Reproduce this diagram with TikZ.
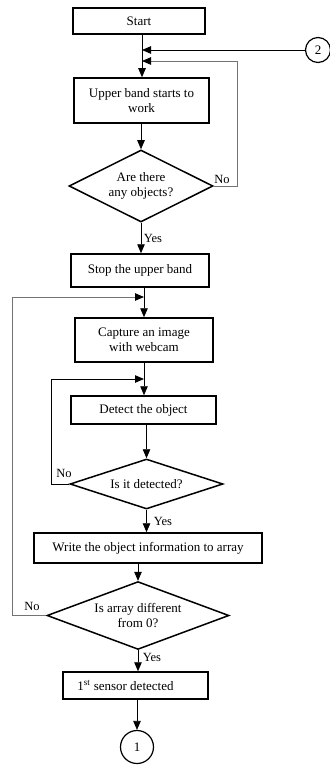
\documentclass[tikz,border=0pt]{standalone}
\usepackage{fontspec}
\setmainfont{Liberation Serif}
\usetikzlibrary{shapes.geometric,arrows.meta,calc}
\begin{document}
\begin{tikzpicture}[x=1pt,y=-1pt,
  txt/.style={font=\fontsize{13}{15}\selectfont},
  box/.style={txt,draw,line width=1.5pt,rectangle,inner sep=0pt,align=center},
  dia/.style={txt,draw,line width=1.5pt,diamond,aspect=2,inner sep=0pt,align=center},
  circ/.style={txt,draw,line width=1.2pt,circle,inner sep=0pt},
  lbl/.style={font=\fontsize{12.5}{14}\selectfont,inner sep=0pt},
  conn/.style={line width=0.8pt,-{Triangle[length=9pt,width=7.5pt]}},
  back/.style={line width=0.8pt,draw=black!55,-{Triangle[length=9pt,width=7.5pt,color=black]}}]
\useasboundingbox (0,0) rectangle (329,767);

% process boxes and decisions
\node[box,minimum width=132pt,minimum height=26pt] (start) at (139,21) {Start};
\node[box,minimum width=135pt,minimum height=45pt] (upper) at (141.5,100.5) {Upper band starts to\\work};
\node[dia,minimum width=144pt,minimum height=72pt] (q1) at (141,186) {Are there\\any objects?};
\node[box,minimum width=138pt,minimum height=33pt] (stop) at (140,270.5) {Stop the upper band};
\node[box,minimum width=138pt,minimum height=44pt] (capture) at (144,340) {Capture an image\\with webcam};
\node[box,minimum width=145pt,minimum height=28pt] (detect) at (143.5,410) {Detect the object};
\node[dia,minimum width=153pt,minimum height=50pt] (q2) at (146.5,484) {Is it detected?};
\node[box,minimum width=228pt,minimum height=30pt] (write) at (148,548) {Write the object information to array};
\node[dia,minimum width=182pt,minimum height=67pt] (q3) at (138,615.5) {Is array different\\from 0?};
\node[box,minimum width=145pt,minimum height=27pt] (sensor) at (135.5,685.5) {1\textsuperscript{st} sensor detected\hspace*{20pt}};

% off-page connectors
\node[circ,minimum size=33pt] (c1) at (137,747) {1};
\node[circ,minimum size=25pt] (c2) at (318,50) {2};

% junction points on the main flow line
\coordinate (j2) at (142,50);
\coordinate (j1) at (142,61);
\coordinate (m1) at (144,297);
\coordinate (m2) at (144,379);

% main flow
\draw[conn] (start.south -| j1) -- (upper.north -| j1);
\draw[conn] (c2.west) -- (j2);
\draw[conn] (upper.south -| q1.north) -- (q1.north);
\draw[conn] (q1.south) -- (stop.north -| q1.south);
\draw[conn] (stop.south -| capture.north) -- (capture.north);
\draw[conn] (capture.south) -- (detect.north -| capture.south);
\draw[conn] (detect.south -| q2.north) -- (q2.north);
\draw[conn] (q2.south) -- (write.north -| q2.south);
\draw[conn] (write.south -| q3.north) -- (q3.north);
\draw[conn] (q3.south) -- (sensor.north -| q3.south);
\draw[conn] (sensor.south -| c1.north) -- (c1.north);

% feedback loops
\draw[back] (q1.east) -- ++(24,0) |- (j1);
\draw[conn] (q2.west) -- ++(-18,0) |- (m2);
\draw[back] (q3.west) -- ++(-34,0) |- (m1);

% branch labels
\node[lbl] (no1) at (222,179) {No};
\node[lbl] (yes1) at (153,238) {Yes};
\node[lbl] (no2) at (64,473) {No};
\node[lbl] (yes2) at (163,521) {Yes};
\node[lbl] (no3) at (32,606) {No};
\node[lbl] (yes3) at (152,657) {Yes};
\end{tikzpicture}
\end{document}
